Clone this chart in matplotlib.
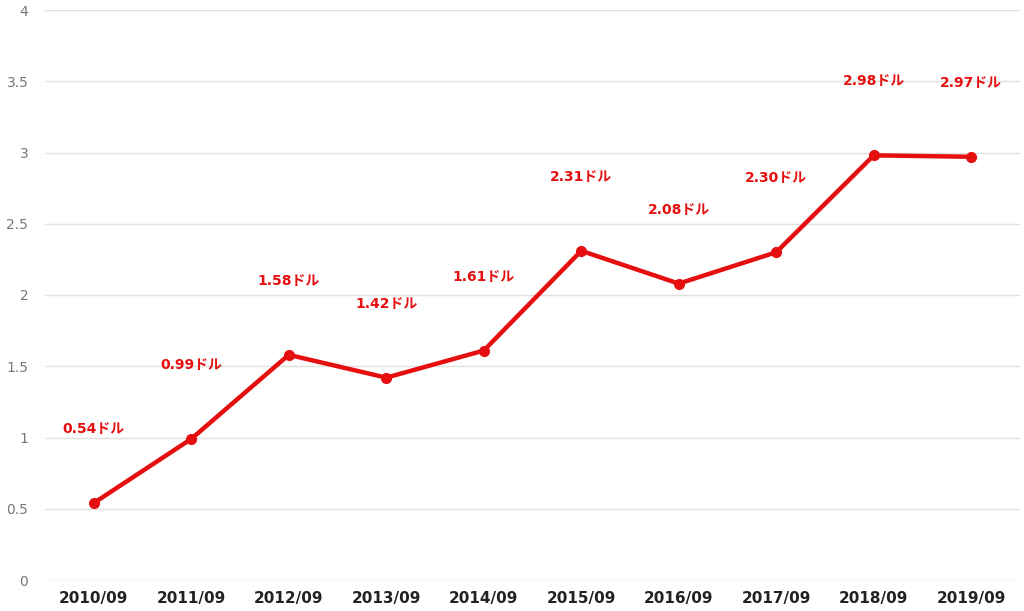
import numpy as np
import matplotlib.pyplot as plt

plt.rcParams['font.family'] = ['DejaVu Sans', 'Noto Sans CJK JP']

years = ["2010/09", "2011/09", "2012/09", "2013/09", "2014/09",
         "2015/09", "2016/09", "2017/09", "2018/09", "2019/09"]
dividends = [0.54, 0.99, 1.58, 1.42, 1.61, 2.31, 2.08, 2.30, 2.98, 2.97]
labels = [f"{v:.2f}ドル" for v in dividends]

red = "#e50f0f"

fig = plt.figure(figsize=(10.24, 6.11), dpi=100)
ax = fig.add_axes([45 / 1024, 31 / 611, 975 / 1024, 570 / 611])

x = np.arange(len(years))
ax.plot(x, dividends, color=red, linewidth=3.2, marker='o', markersize=7, zorder=3)
for xi, v, lab in zip(x, dividends, labels):
    ax.annotate(lab, (xi, v), xytext=(0, 74), textcoords='offset pixels',
                ha='center', va='center', color=red, fontsize=10, fontweight='bold')

ax.set_xlim(-0.5, len(years) - 0.5)
ax.set_ylim(0, 4)
ax.set_yticks(np.arange(0, 4.01, 0.5))
ax.set_yticklabels(["0", "0.5", "1", "1.5", "2", "2.5", "3", "3.5", "4"])
ax.set_xticks(x)
ax.set_xticklabels(years, fontweight='bold', fontsize=11, color='#222222')
ax.tick_params(axis='y', colors='#777777', labelsize=10, length=0, pad=12)
ax.tick_params(axis='x', length=0, pad=8)
ax.grid(axis='y', color='#e0e0e0', linewidth=1)
ax.set_axisbelow(True)
for s in ax.spines.values():
    s.set_visible(False)

plt.savefig("out.png", dpi=100)
plt.close(fig)
